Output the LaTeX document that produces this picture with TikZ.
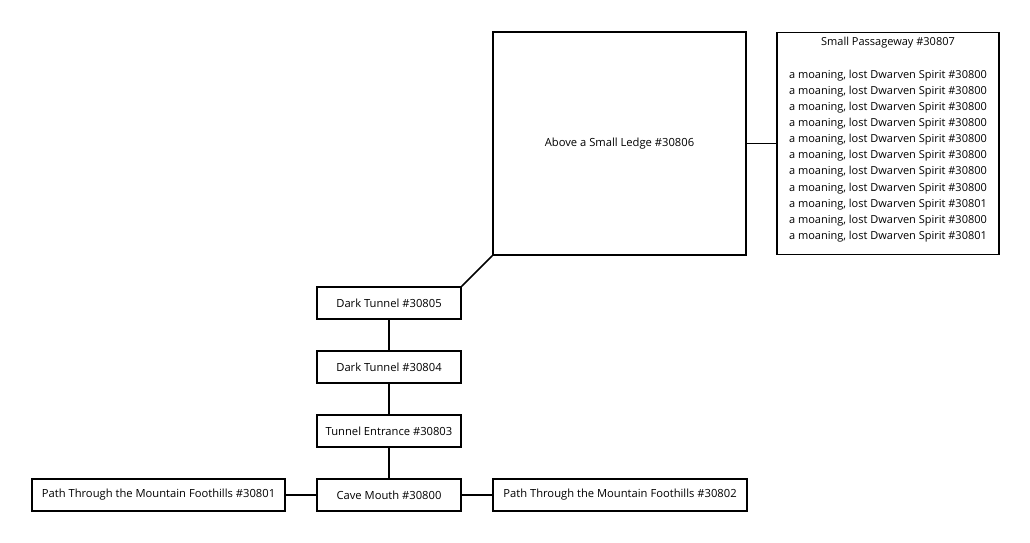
\documentclass[tikz,border=0pt]{standalone}
\usepackage{fontspec}
\setmainfont{Open Sans}
\begin{document}
\begin{tikzpicture}[x=1pt,y=-1pt,
  room/.style={draw=black,line width=1.6pt,fill=white,inner sep=0pt,
    font=\fontsize{11.2}{16.1}\selectfont,align=center},
  link/.style={draw=black,line width=1.6pt}]
\useasboundingbox (0,0) rectangle (1030,543);
\fill[white] (0,0) rectangle (1030,543);
\node[room,minimum width=253pt,minimum height=223pt] (ledge) at (619.5,143.5) {Above a Small Ledge \#30806};
\node[room,minimum width=222pt,minimum height=222pt] (passage) at (888,143.5) {};
\node[anchor=north,inner sep=0pt,font=\fontsize{11}{16.1}\selectfont,align=center] (passagetext) at ([yshift=-5pt]passage.north) {Small Passageway \#30807\\[17pt]
a moaning, lost Dwarven Spirit \#30800\\
a moaning, lost Dwarven Spirit \#30800\\
a moaning, lost Dwarven Spirit \#30800\\
a moaning, lost Dwarven Spirit \#30800\\
a moaning, lost Dwarven Spirit \#30800\\
a moaning, lost Dwarven Spirit \#30800\\
a moaning, lost Dwarven Spirit \#30800\\
a moaning, lost Dwarven Spirit \#30800\\
a moaning, lost Dwarven Spirit \#30801\\
a moaning, lost Dwarven Spirit \#30800\\
a moaning, lost Dwarven Spirit \#30801};
\node[room,minimum width=144pt,minimum height=32pt] (dt5) at (389,303) {Dark Tunnel \#30805};
\node[room,minimum width=144pt,minimum height=32pt] (dt4) at (389,367) {Dark Tunnel \#30804};
\node[room,minimum width=144pt,minimum height=32pt] (te) at (389,431) {Tunnel Entrance \#30803};
\node[room,minimum width=144pt,minimum height=32pt] (cave) at (389,495) {Cave Mouth \#30800};
\node[room,minimum width=253pt,minimum height=32pt] (path1) at (158.5,495) {Path Through the Mountain Foothills \#30801};
\node[room,minimum width=254pt,minimum height=32pt] (path2) at (620,495) {Path Through the Mountain Foothills \#30802};
\draw[link] (ledge.east) -- (passage.west);
\draw[link] (ledge.south west) -- (dt5.north east);
\draw[link] (dt5) -- (dt4);
\draw[link] (dt4) -- (te);
\draw[link] (te) -- (cave);
\draw[link] (path1) -- (cave);
\draw[link] (cave) -- (path2);
\end{tikzpicture}
\end{document}
